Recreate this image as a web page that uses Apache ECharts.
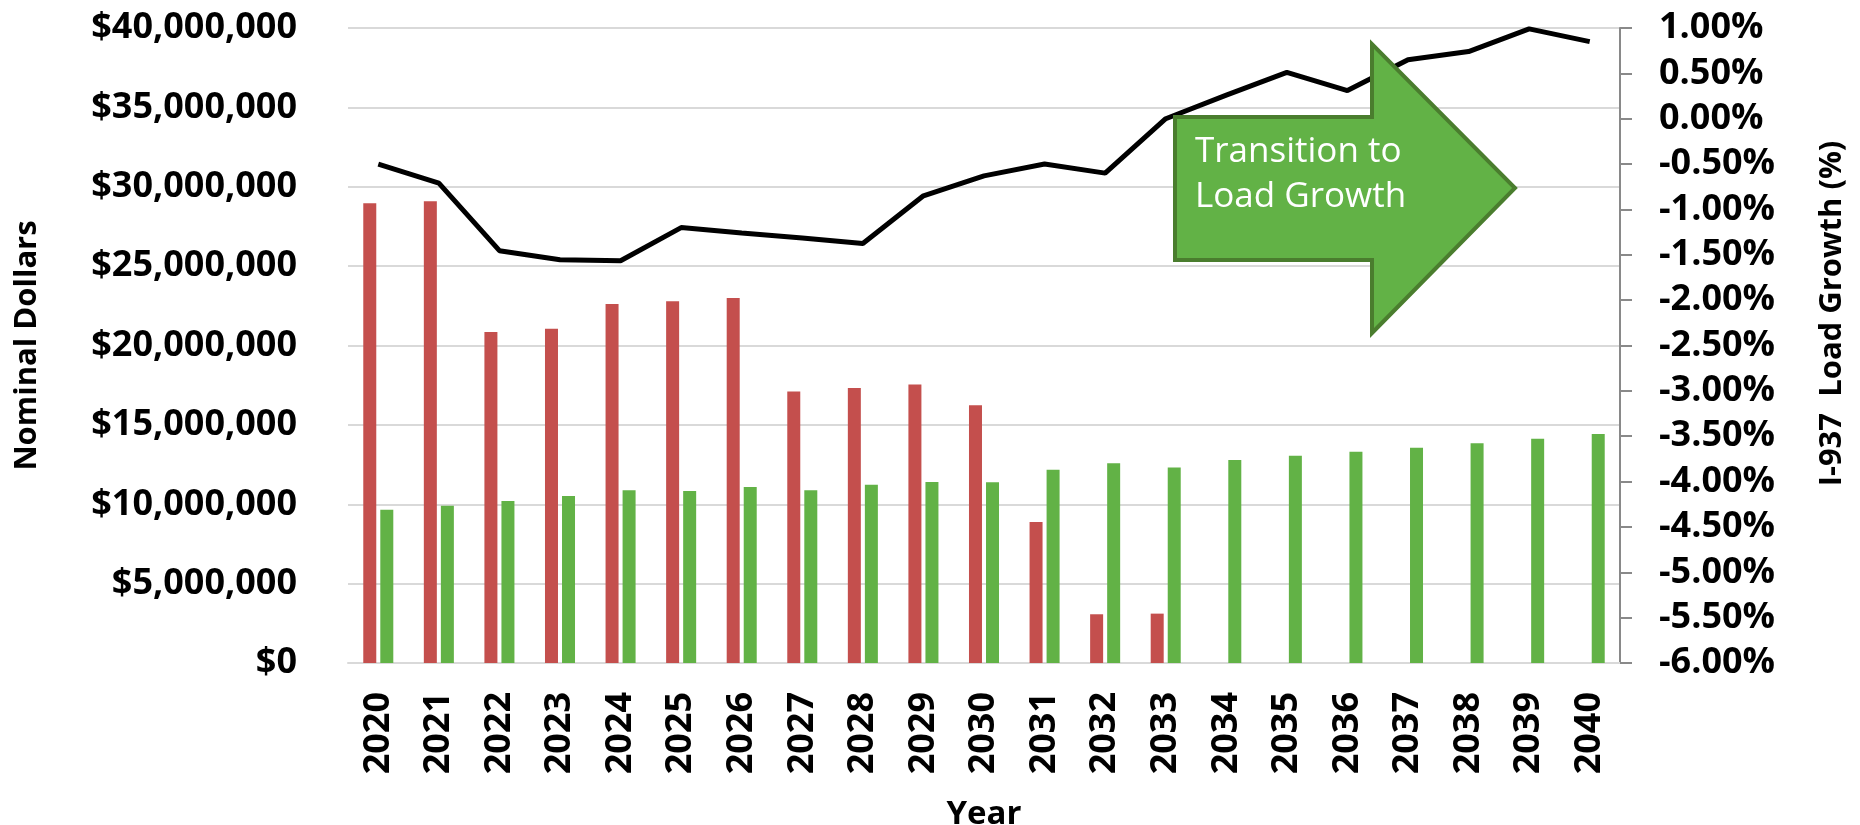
<!DOCTYPE html>
<html>
<head>
<meta charset="utf-8">
<title>I-937 Load Growth</title>
<script src="https://cdn.jsdelivr.net/npm/echarts@6/dist/echarts.min.js"></script>
<style>
  html, body { margin: 0; padding: 0; background: #fff; }
  #chart { width: 1860px; height: 825px; }
</style>
</head>
<body>
<div id="chart"></div>
<script>
// years on the category axis
var years = ['2020', '2021', '2022', '2023', '2024', '2025', '2026', '2027', '2028', '2029', '2030',
  '2031', '2032', '2033', '2034', '2035', '2036', '2037', '2038', '2039', '2040'];

// red bars, nominal dollars
var redDollars = [28960000, 29080000, 20850000, 21060000, 22610000, 22780000, 22990000, 17110000,
  17320000, 17550000, 16230000, 8880000, 3070000, 3110000, null, null, null, null, null, null, null];

// green bars, nominal dollars
var greenDollars = [9660000, 9910000, 10200000, 10520000, 10880000, 10830000, 11090000, 10880000,
  11230000, 11400000, 11380000, 12180000, 12590000, 12310000, 12780000, 13050000, 13300000,
  13560000, 13850000, 14120000, 14420000];

// black line, I-937 load growth in percent
var loadGrowth = [-0.50, -0.71, -1.455, -1.555, -1.565, -1.20, -1.26, -1.315, -1.375, -0.85, -0.63,
  -0.50, -0.60, 0.0, 0.26, 0.51, 0.31, 0.65, 0.74, 0.99, 0.85];

var FONT = '"Open Sans", "Noto Sans", sans-serif';
var GRID = '#d9d9d9';

var chart = echarts.init(document.getElementById('chart'));

var option = {
  animation: false,
  textStyle: { fontFamily: FONT, color: '#000' },
  grid: { left: 348, right: 240, top: 28, bottom: 162, containLabel: false, outerBoundsMode: 'none' },
  xAxis: {
    type: 'category',
    data: years,
    name: 'Year',
    nameLocation: 'middle',
    nameGap: 135,
    nameTextStyle: { fontFamily: FONT, fontSize: 33, fontWeight: 'bold', color: '#000' },
    axisLine: { lineStyle: { color: GRID, width: 2 } },
    axisTick: { show: false },
    axisLabel: {
      rotate: 90,
      margin: 29,
      interval: 0,
      fontFamily: FONT,
      fontSize: 36,
      fontWeight: 'bold',
      color: '#000'
    }
  },
  yAxis: [
    {
      type: 'value',
      min: 0,
      max: 40000000,
      interval: 5000000,
      name: 'Nominal Dollars',
      nameLocation: 'middle',
      nameGap: 305,
      nameTextStyle: { fontFamily: FONT, fontSize: 31, fontWeight: 'bold', color: '#000' },
      axisLine: { show: false },
      axisTick: { show: false },
      splitLine: { lineStyle: { color: GRID, width: 2 } },
      axisLabel: {
        margin: 51,
        fontFamily: FONT,
        fontSize: 36,
        fontWeight: 'bold',
        color: '#000',
        formatter: function (v) { return '$' + v.toLocaleString('en-US'); }
      }
    },
    {
      type: 'value',
      position: 'right',
      min: -6,
      max: 1,
      interval: 0.5,
      name: 'I-937  Load Growth (%)',
      nameLocation: 'middle',
      nameRotate: 90,
      nameGap: 197,
      nameTextStyle: {
        fontFamily: FONT, fontSize: 31, fontWeight: 'bold', color: '#000',
        padding: [0, 0, 0, 64]
      },
      axisLine: { show: true, lineStyle: { color: '#898989', width: 2 } },
      axisTick: { show: true, length: 12, lineStyle: { color: '#898989', width: 2 } },
      splitLine: { show: false },
      axisLabel: {
        margin: 39,
        fontFamily: FONT,
        fontSize: 36,
        fontWeight: 'bold',
        color: '#000',
        formatter: function (v) { return v.toFixed(2) + '%'; }
      }
    }
  ],
  series: [
    {
      type: 'bar',
      data: redDollars,
      barWidth: 13,
      barGap: '31%',
      itemStyle: { color: '#c44f4d' }
    },
    {
      type: 'bar',
      data: greenDollars,
      barWidth: 13,
      itemStyle: { color: '#62b246' }
    },
    {
      type: 'line',
      yAxisIndex: 1,
      data: loadGrowth,
      showSymbol: false,
      lineStyle: { color: '#000', width: 5 },
      z: 5
    }
  ],
  // the "Transition to Load Growth" arrow callout
  graphic: [
    {
      type: 'polygon',
      z: 100,
      shape: {
        points: [[1175, 117], [1372, 117], [1372, 44], [1515, 188], [1372, 333], [1372, 260], [1175, 260]]
      },
      style: { fill: '#62b246', stroke: '#4a7d2e', lineWidth: 4 }
    },
    {
      type: 'text',
      z: 101,
      x: 1195,
      y: 130,
      style: {
        text: 'Transition to\nLoad Growth',
        fill: '#fff',
        font: '35px ' + FONT,
        lineHeight: 45
      }
    }
  ]
};

chart.setOption(option);
</script>
</body>
</html>
